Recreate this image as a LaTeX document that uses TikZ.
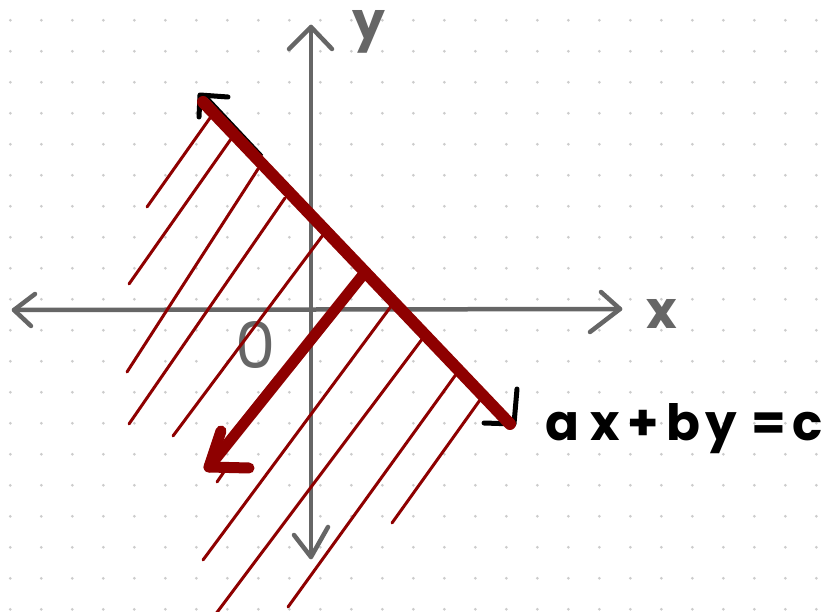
\documentclass[tikz,border=0pt]{standalone}
\usepackage{fontspec}
\newfontfamily\hand{Poppins}
\definecolor{dred}{HTML}{8E0000}
\definecolor{axgray}{HTML}{666666}
\definecolor{dotgray}{HTML}{CCCCCC}
\begin{document}
\begin{tikzpicture}[x=1pt,y=-1pt,
  axis/.style={draw=axgray, line width=4.5pt, line cap=round, line join=round},
  hatch/.style={draw=dred, line width=3pt, line cap=round},
  mainline/.style={draw=dred, line width=12pt, line cap=round},
  shadowline/.style={draw=black, line width=2pt, line cap=butt},
  normarrow/.style={draw=dred, line width=11pt, line cap=round, line join=round},
  tipmark/.style={draw=black, line width=5pt, line cap=round, line join=round},
  lbl/.style={font=\hand\bfseries\fontsize{52}{60}\selectfont, inner sep=0pt},
]
\useasboundingbox (0,0) rectangle (828,612);
\fill[white] (0,0) rectangle (828,612);
% dot grid
\foreach \i in {0,...,26}
  \foreach \j in {0,...,19}
    \fill[dotgray] (10.3+31*\i, 20.3+31*\j) circle (1.5pt);

% axes
\coordinate (xl) at (14,310);
\coordinate (xr) at (620,309);
\coordinate (yt) at (311,27);
\coordinate (yb) at (311,557);
\draw[axis] (xl) -- (xr);
\draw[axis] (yt) -- (yb);
\draw[axis] (xl) ++(21,-16) -- (xl) -- ++(17,16);
\draw[axis] (xr) ++(-19,-17) -- (xr) -- ++(-30,23);
\draw[axis] (yt) ++(-22,22) -- (yt) -- ++(21,22);
\draw[axis] (yb) ++(-17,-22) -- (yb) -- ++(17,-30);

% axis labels
\node[lbl, text=axgray, anchor=base] (ylab) at (369,40) {y};
\node[lbl, text=axgray, anchor=base] (xlab) at (662,329) {x};
\node[lbl, text=axgray, anchor=base, font=\hand\fontsize{64}{70}\selectfont] (olab) at (256,369) {0};

% hatch lines
\foreach \a/\b/\c/\d in {147/207/210/118, 129/284/231/139, 127/372/258/169,
  129/424/285/198, 173/436/323/235, 217/482/228/466, 203/560/392/305,
  215/615/423/338, 288/607/457/373, 392/523/480/400}
  \draw[hatch] (\a,\b) -- (\c,\d);

% boundary line ax+by=c
\coordinate (L1) at (203,102);
\coordinate (L2) at (510,424);
\coordinate (S1) at (208,97.5);
\coordinate (S2) at (262.5,155.5);
\draw[tipmark] (228,97) -- (200,95) -- (199,117);
\draw[tipmark] (484,423) -- (514,424) -- (517,389);
\draw[shadowline] (S1) -- (S2);
\draw[mainline] (L1) -- (L2);

% normal arrow
\coordinate (A0) at (362,276);
\coordinate (A1) at (209,467);
\draw[normarrow] (A0) -- (A1);
\draw[normarrow] (221,431) -- (A1) -- (249,468);

% equation label
\node[lbl, anchor=base west, font=\hand\bfseries\fontsize{50}{60}\selectfont] (eq) at (545,440)
  {a\hspace{11pt}x\hspace{8pt}+\hspace{8pt}b\hspace{5pt}y\hspace{14pt}=\hspace{6pt}c};
\end{tikzpicture}
\end{document}
